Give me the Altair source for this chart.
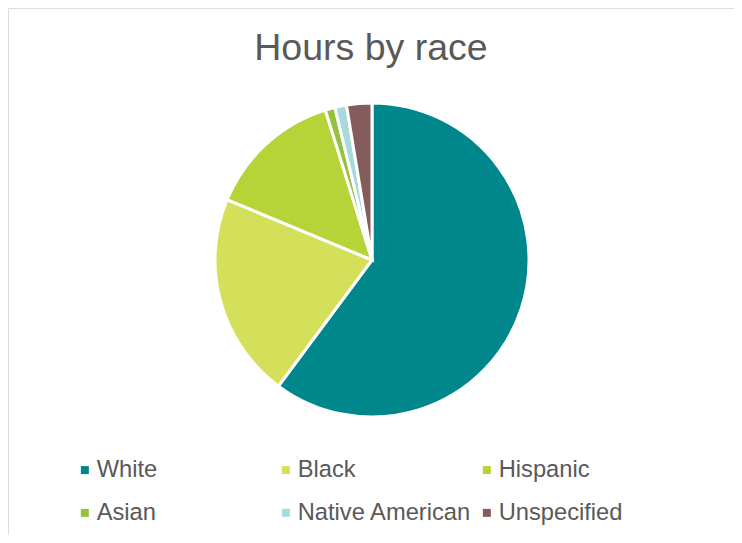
import altair as alt
import pandas as pd

categories = ["White", "Black", "Hispanic", "Asian", "Native American", "Unspecified"]
shares = [60.1, 21.1, 13.9, 1.0, 1.2, 2.6]
colors = ["#00878C", "#D4DF5A", "#B6D438", "#93C23E", "#A9DADB", "#855C5C"]

df = pd.DataFrame({"race": categories, "share": shares, "idx": list(range(len(categories)))})

W, H = 726, 537

chart = (
    alt.Chart(df)
    .mark_arc(radius=157, stroke="white", strokeWidth=3)
    .encode(
        theta=alt.Theta("share:Q", stack=True),
        order=alt.Order("idx:Q"),
        color=alt.Color(
            "race:N",
            scale=alt.Scale(domain=categories, range=colors),
            legend=alt.Legend(
                title=None,
                orient="none",
                legendX=65,
                legendY=450,
                columns=3,
                direction="horizontal",
                gridAlign="all",
                columnPadding=3,
                rowPadding=18,
                symbolType="square",
                symbolSize=64,
                symbolStrokeWidth=0,
                labelOffset=0,
                labelFont="Liberation Sans",
                labelFontSize=23.7,
                labelColor="#595959",
                labelLimit=400,
                padding=0,
            ),
        ),
        x=alt.value(364),
        y=alt.value(252),
    )
    .properties(
        width=W,
        height=H,
        autosize=alt.AutoSizeParams(type="none"),
        padding={"left": 0, "top": 0, "right": 0, "bottom": -10},
        title=alt.TitleParams(
            "Hours by race",
            anchor="middle",
            font="Liberation Sans",
            fontSize=37.5,
            fontWeight="normal",
            color="#595959",
            baseline="alphabetic",
            offset=0,
            dy=89,
        ),
    )
    .configure_view(stroke="#d9d9d9", strokeWidth=1.5)
    .configure(background="white")
)

chart.save("out.html", embed_options={"renderer": "svg", "actions": False})
